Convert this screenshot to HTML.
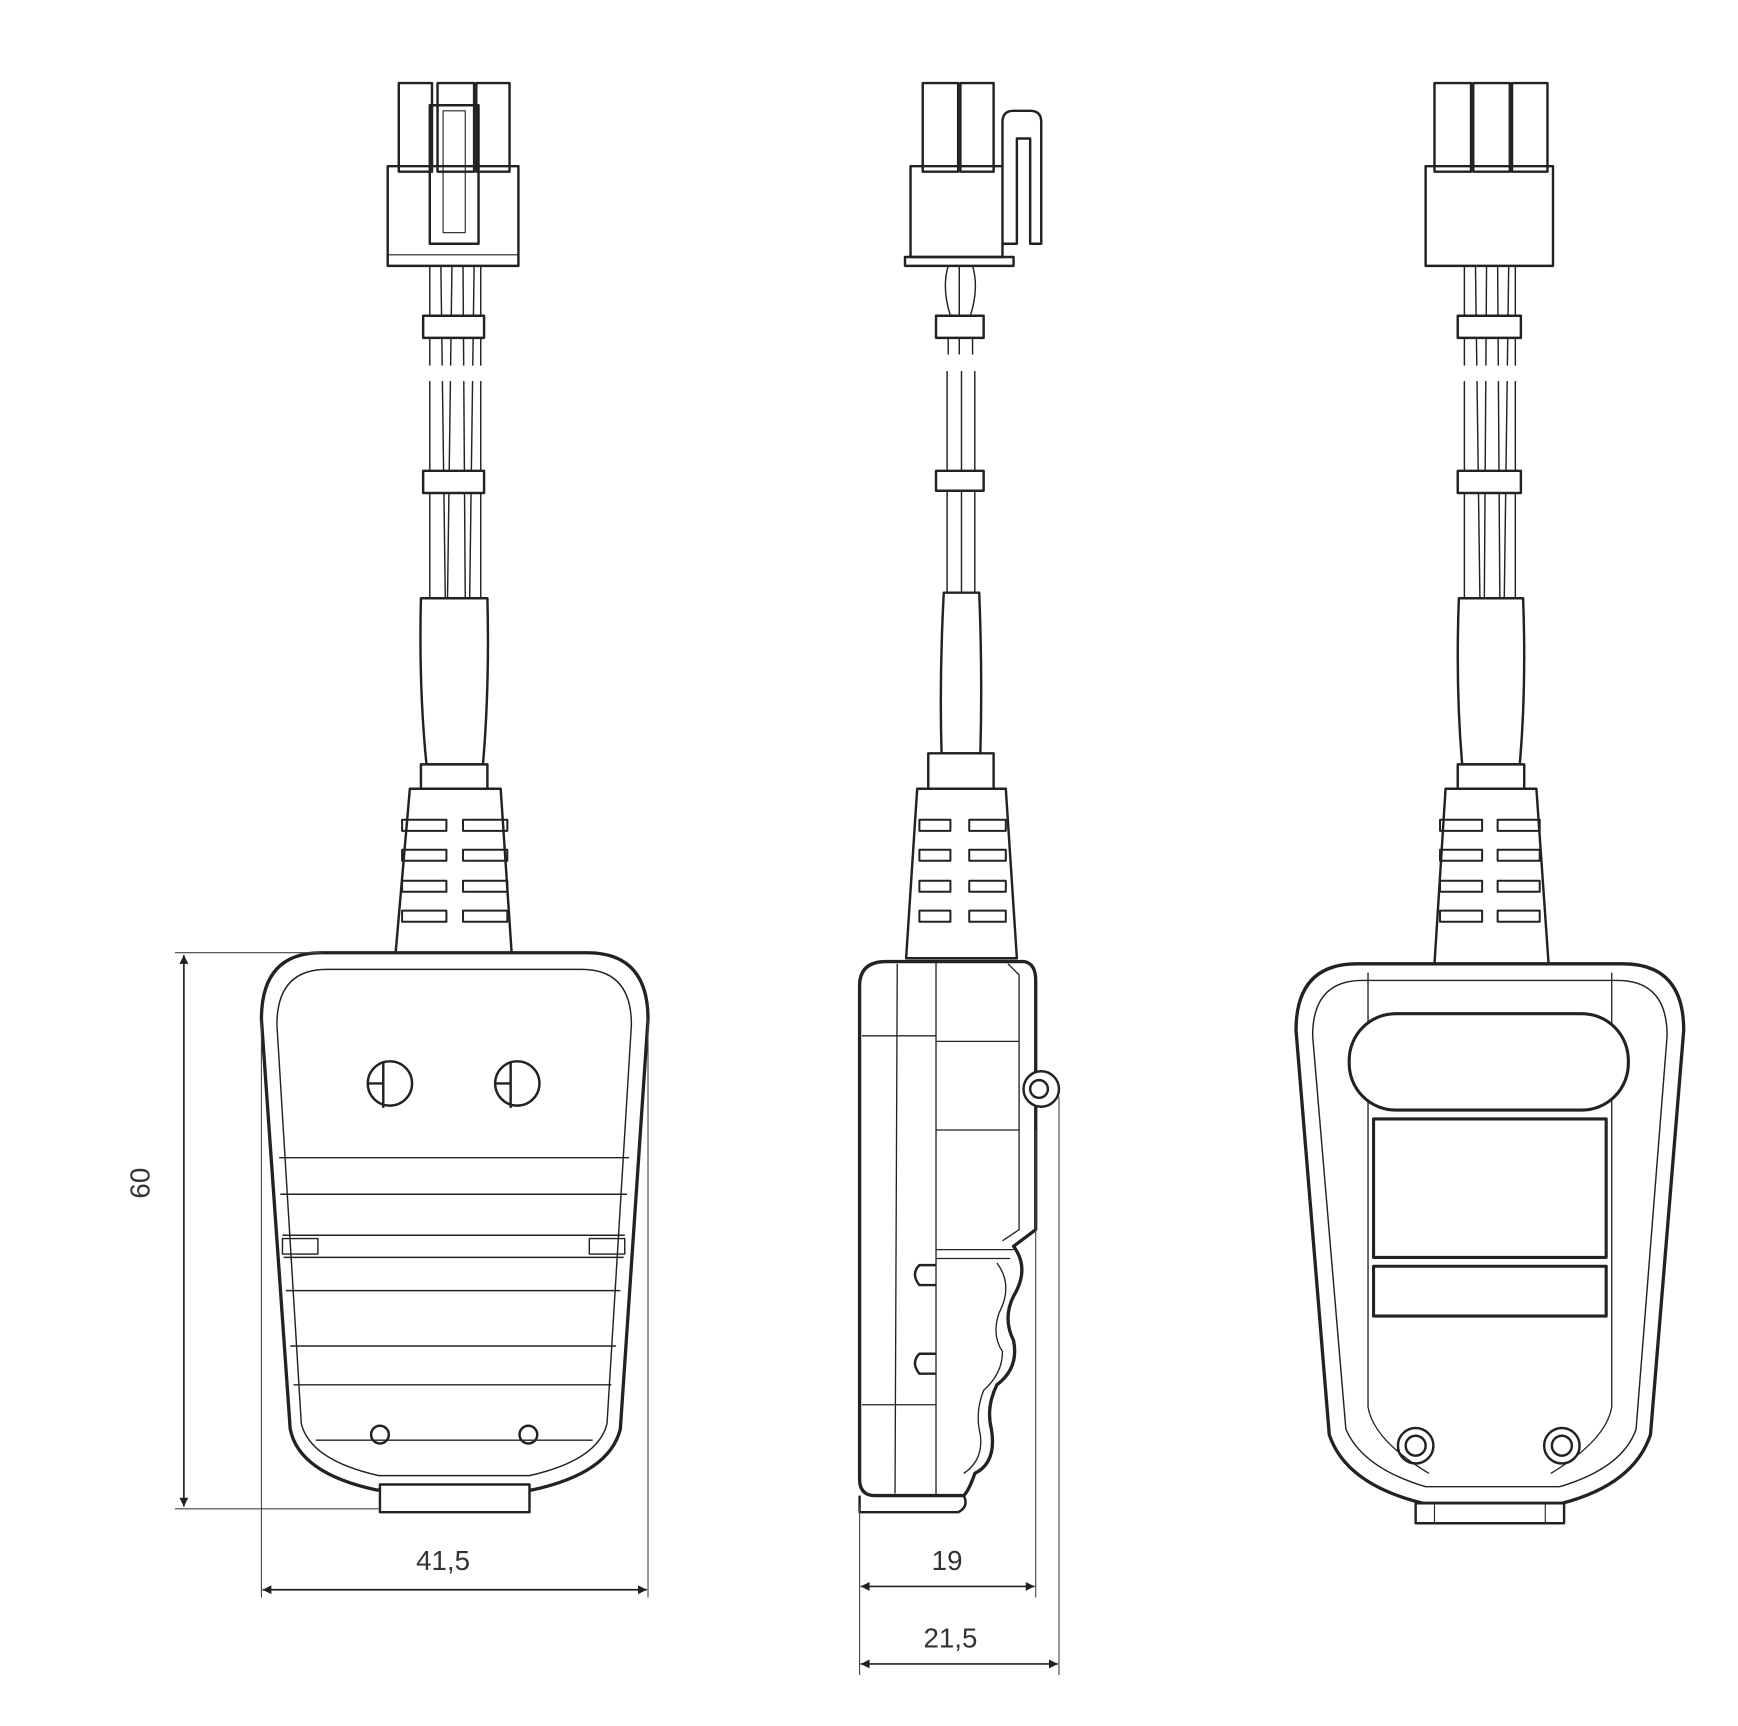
<!DOCTYPE html>
<html><head><meta charset="utf-8"><style>
html,body{margin:0;padding:0;background:#fff;width:1738px;height:1726px;overflow:hidden}
svg{display:block}
text{font-family:"Liberation Sans",sans-serif;font-size:25px;fill:#333}
</style></head><body>
<svg width="1738" height="1726" viewBox="0 0 1569 1558" preserveAspectRatio="none" xmlns="http://www.w3.org/2000/svg">
<defs>
<marker id="a" viewBox="0 0 10 10" refX="10" refY="5" markerWidth="14" markerHeight="8" orient="auto-start-reverse" markerUnits="userSpaceOnUse"><path d="M0,0 L10,5 L0,10z" fill="#222"/></marker>
</defs>
<g fill="none" stroke="#222" stroke-width="2.2" stroke-linejoin="round">
<!-- LEFT VIEW -->
<rect x="360" y="75" width="30" height="80"/><rect x="395" y="75" width="33" height="80"/><rect x="430" y="75" width="30" height="80"/>
<rect x="350" y="150" width="118" height="90"/>
<rect x="388" y="95" width="44" height="125"/><rect x="400" y="100" width="20" height="110" stroke-width="1"/>
<line x1="350" y1="230" x2="468" y2="230" stroke-width="1"/>
<g stroke-width="1.3"><path d="M388 240 L388 540 M398 240 L402 540 M408 240 L404 540 M418 240 L420 540 M428 240 L424 540 M434 240 L434 540"/></g>
<rect x="382" y="285" width="55" height="20" fill="#fff"/><rect x="382" y="425" width="55" height="20" fill="#fff"/>
<rect x="380" y="330" width="58" height="14" fill="#fff" stroke="none"/>
<path d="M380 540 Q378 620 385 690 L436 690 Q442 620 440 540 Z" fill="#fff"/>
<rect x="380" y="690" width="60" height="22" fill="#fff"/>
<path d="M370 712 L452 712 L462 862 L357 862 Z" fill="#fff"/>
<g stroke-width="1.8">
<rect x="363" y="740" width="40" height="10"/><rect x="418" y="740" width="40" height="10"/>
<rect x="363" y="767" width="40" height="10"/><rect x="418" y="767" width="40" height="10"/>
<rect x="363" y="795" width="40" height="10"/><rect x="418" y="795" width="40" height="10"/>
<rect x="363" y="822" width="40" height="10"/><rect x="418" y="822" width="40" height="10"/>
</g>
<path d="M290 860 L530 860 Q585 860 585 920 L560 1290 Q550 1330 480 1345 L340 1345 Q270 1330 262 1290 L236 920 Q236 860 290 860 Z" fill="#fff" stroke-width="3"/>
<path d="M295 875 L525 875 Q570 875 570 925 L548 1285 Q540 1318 478 1332 L342 1332 Q280 1318 272 1285 L250 925 Q250 875 295 875 Z" stroke-width="1.3"/>
<g stroke-width="1.3">
<line x1="252" y1="1045" x2="568" y2="1045"/><line x1="253" y1="1078" x2="566" y2="1078"/>
<line x1="255" y1="1115" x2="564" y2="1115"/><line x1="256" y1="1135" x2="563" y2="1135"/>
<line x1="258" y1="1165" x2="560" y2="1165"/><line x1="262" y1="1215" x2="556" y2="1215"/>
<line x1="265" y1="1250" x2="552" y2="1250"/><line x1="285" y1="1300" x2="535" y2="1300"/>
<rect x="255" y="1118" width="32" height="14"/><rect x="532" y="1118" width="32" height="14"/>
</g>
<rect x="343" y="1340" width="135" height="25" fill="#fff"/>
<circle cx="352" cy="978" r="20"/><path d="M346 958 L346 1000 M333 978 L346 978"/>
<circle cx="467" cy="978" r="20"/><path d="M461 958 L461 1000 M448 978 L461 978"/>
<circle cx="343" cy="1295" r="8"/><circle cx="477" cy="1295" r="8"/>
<!-- MIDDLE VIEW -->
<rect x="833" y="75" width="32" height="80"/><rect x="867" y="75" width="30" height="80"/>
<rect x="822" y="150" width="83" height="82"/>
<path d="M817 232 L915 232 L915 240 L817 240 Z"/>
<path d="M905 150 L905 110 Q905 100 915 100 L930 100 Q940 100 940 110 L940 220 L930 220 L930 125 L918 125 L918 220 L905 220"/>
<g stroke-width="1.3"><path d="M856 240 Q850 260 858 285 M866 240 L866 285 M878 240 Q884 260 876 285 M856 305 L856 320 M866 305 L866 320 M878 305 L878 320 M855 335 L855 425 M868 335 L868 425 M880 335 L880 425 M855 443 L855 535 M868 443 L868 535 M880 443 L880 535"/></g>
<rect x="845" y="285" width="43" height="20" fill="#fff"/><rect x="845" y="425" width="43" height="18" fill="#fff"/>
<path d="M852 535 Q848 610 850 680 L885 680 Q887 610 884 535 Z" fill="#fff"/>
<rect x="838" y="680" width="59" height="32" fill="#fff"/>
<path d="M828 712 L908 712 L918 865 L818 865 Z" fill="#fff"/>
<g stroke-width="1.8">
<rect x="830" y="740" width="28" height="10"/><rect x="875" y="740" width="33" height="10"/>
<rect x="830" y="767" width="28" height="10"/><rect x="875" y="767" width="33" height="10"/>
<rect x="830" y="795" width="28" height="10"/><rect x="875" y="795" width="33" height="10"/>
<rect x="830" y="822" width="28" height="10"/><rect x="875" y="822" width="33" height="10"/>
</g>
<path d="M800 868 L925 868 Q935 870 935 885 L935 1110 L915 1125 Q930 1145 915 1170 Q905 1190 915 1210 Q920 1235 900 1250 Q890 1270 895 1290 Q900 1320 880 1330 Q875 1345 870 1350 L790 1350 Q776 1350 776 1335 L776 890 Q776 868 800 868 Z" fill="#fff" stroke-width="3"/>
<g stroke-width="1.2">
<line x1="845" y1="868" x2="845" y2="1350"/><line x1="810" y1="870" x2="808" y2="1348"/>
<line x1="778" y1="935" x2="845" y2="935"/><line x1="778" y1="1268" x2="845" y2="1268"/>
<line x1="845" y1="1128" x2="915" y2="1128"/><line x1="845" y1="1136" x2="912" y2="1136"/>
<path d="M910 870 L920 880 L920 1110 L905 1120"/>
<path d="M900 1140 Q915 1160 902 1185 Q895 1205 905 1220 Q905 1240 888 1255 Q880 1275 885 1295 Q888 1318 870 1330"/>
<path d="M845 940 L920 940 M845 1020 L920 1020"/>
</g>
<path d="M845 1142 L830 1142 Q822 1150 830 1160 L845 1160 M845 1222 L830 1222 Q822 1230 830 1240 L845 1240"/>
<circle cx="940" cy="983" r="16" fill="#fff"/><circle cx="938" cy="983" r="8"/>
<path d="M776 1350 L776 1365 L865 1365 Q875 1360 870 1350"/>
<!-- RIGHT VIEW -->
<rect x="1295" y="75" width="33" height="80"/><rect x="1330" y="75" width="33" height="80"/><rect x="1365" y="75" width="32" height="80"/>
<rect x="1287" y="150" width="115" height="90"/>
<g stroke-width="1.3"><path d="M1322 240 L1322 540 M1332 240 L1336 540 M1342 240 L1340 540 M1352 240 L1354 540 M1362 240 L1358 540 M1368 240 L1368 540"/></g>
<rect x="1316" y="285" width="57" height="20" fill="#fff"/><rect x="1316" y="425" width="57" height="20" fill="#fff"/>
<rect x="1314" y="330" width="60" height="14" fill="#fff" stroke="none"/>
<path d="M1317 540 Q1314 620 1320 690 L1372 690 Q1378 620 1375 540 Z" fill="#fff"/>
<rect x="1316" y="690" width="60" height="22" fill="#fff"/>
<path d="M1305 712 L1387 712 L1398 870 L1295 870 Z" fill="#fff"/>
<g stroke-width="1.8">
<rect x="1300" y="740" width="38" height="10"/><rect x="1352" y="740" width="38" height="10"/>
<rect x="1300" y="767" width="38" height="10"/><rect x="1352" y="767" width="38" height="10"/>
<rect x="1300" y="795" width="38" height="10"/><rect x="1352" y="795" width="38" height="10"/>
<rect x="1300" y="822" width="38" height="10"/><rect x="1352" y="822" width="38" height="10"/>
</g>
<path d="M1225 870 L1465 870 Q1520 870 1520 930 L1490 1295 Q1475 1340 1410 1357 L1285 1357 Q1215 1340 1200 1295 L1170 930 Q1170 870 1225 870 Z" fill="#fff" stroke-width="3"/>
<path d="M1230 885 L1460 885 Q1505 885 1505 935 L1477 1290 Q1465 1325 1408 1342 L1287 1342 Q1230 1325 1215 1290 L1185 935 Q1185 885 1230 885 Z" stroke-width="1.3"/>
<path d="M1235 878 L1235 1270 Q1240 1300 1290 1330 M1455 878 L1455 1270 Q1450 1300 1400 1330" stroke-width="1.2"/>
<rect x="1218" y="915" width="252" height="87" rx="42" fill="#fff" stroke-width="2.8"/>
<rect x="1240" y="1010" width="210" height="125" stroke-width="2.8"/>
<rect x="1240" y="1143" width="210" height="45" stroke-width="2.8"/>
<circle cx="1278" cy="1305" r="16"/><circle cx="1278" cy="1305" r="9"/>
<circle cx="1410" cy="1305" r="16"/><circle cx="1410" cy="1305" r="9"/>
<rect x="1278" y="1357" width="134" height="18" fill="#fff"/><line x1="1295" y1="1357" x2="1295" y2="1375" stroke-width="1"/><line x1="1395" y1="1357" x2="1395" y2="1375" stroke-width="1"/>
</g>
<!-- DIMENSIONS -->
<g fill="none" stroke="#444" stroke-width="1">
<line x1="158" y1="860" x2="290" y2="860"/><line x1="158" y1="1362" x2="343" y2="1362"/>
<line x1="236" y1="920" x2="236" y2="1442"/><line x1="585" y1="920" x2="585" y2="1442"/>
<line x1="776" y1="1360" x2="776" y2="1512"/><line x1="935" y1="1020" x2="935" y2="1442"/><line x1="956" y1="990" x2="956" y2="1512"/>
</g>
<g stroke="#222" stroke-width="1.5">
<line x1="166" y1="862" x2="166" y2="1360" marker-start="url(#a)" marker-end="url(#a)"/>
<line x1="237" y1="1435" x2="584" y2="1435" marker-start="url(#a)" marker-end="url(#a)"/>
<line x1="777" y1="1432" x2="934" y2="1432" marker-start="url(#a)" marker-end="url(#a)"/>
<line x1="777" y1="1502" x2="955" y2="1502" marker-start="url(#a)" marker-end="url(#a)"/>
</g>
<text x="400" y="1417" text-anchor="middle">41,5</text>
<text x="855" y="1417" text-anchor="middle">19</text>
<text x="858" y="1487" text-anchor="middle">21,5</text>
<text x="0" y="0" text-anchor="middle" transform="translate(135,1068) rotate(-90)">60</text>
</svg>
</body></html>
